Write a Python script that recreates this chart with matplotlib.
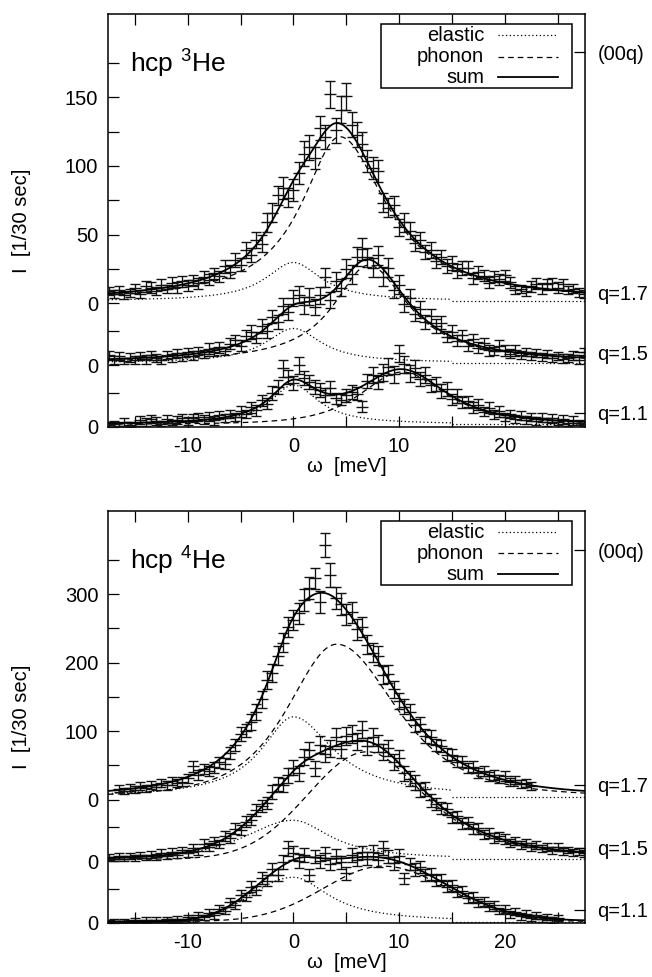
import numpy as np
import matplotlib
matplotlib.use("Agg")
import matplotlib.pyplot as plt
from matplotlib.patches import Rectangle
from matplotlib.lines import Line2D

plt.rcParams['font.family'] = ['Liberation Sans', 'DejaVu Sans']
plt.rcParams['mathtext.fontset'] = 'custom'
plt.rcParams['mathtext.rm'] = 'Liberation Sans'
plt.rcParams['mathtext.default'] = 'regular'

# ---------------- data ----------------
STEP = 0.5
q_labels = ["q=1.1", "q=1.5", "q=1.7"]

# top panel: hcp 3He, counts above each curve's own zero
he3_start = [-17.5, -17.5, -17.5]
he3_q11 = [1.5, 2.2, 1.0, 3.5, 1.8, 0.6, 4.9, 3.8, 5.6, 4.4,
           2.4, 5.9, 3.1, 5.0, 6.8, 4.1, 6.3, 7.2, 5.5, 7.6,
           4.8, 8.9, 6.3, 9.2, 7.5, 11.6, 9.4, 14.5, 12.1, 19.3,
           16.8, 24.6, 28.9, 42.7, 36.5, 31.8, 44.8, 35.7, 33.0, 29.1,
           26.9, 23.4, 28.2, 21.0, 19.8, 23.0, 25.5, 24.3, 14.8, 33.5,
           37.9, 32.4, 39.6, 43.9, 38.2, 53.6, 45.6, 39.0, 42.7, 34.9,
           38.0, 30.2, 31.5, 26.0, 27.8, 20.1, 22.8, 17.5, 18.9, 14.0,
           16.2, 11.2, 13.9, 9.1, 11.4, 7.3, 9.6, 6.0, 8.3, 5.2,
           7.4, 4.6, 6.9, 3.9, 6.2, 3.4, 5.5, 2.9, 4.7, 3.2,
           2.5]
he3_q11_err = [2, 2, 2, 3, 2, 2, 3, 3, 3, 3,
               2, 3, 2, 3, 3, 3, 3, 3, 3, 3,
               3, 3, 3, 3, 3, 4, 3, 4, 4, 4,
               4, 5, 5, 6, 5, 5, 6, 5, 5, 5,
               5, 5, 5, 4, 4, 5, 5, 5, 4, 5,
               6, 5, 6, 6, 6, 6, 6, 6, 6, 5,
               6, 5, 5, 5, 5, 4, 5, 4, 4, 4,
               4, 3, 4, 3, 4, 3, 3, 3, 3, 3,
               3, 3, 3, 3, 3, 2, 3, 2, 3, 2,
               2]
he3_q15 = [7.5, 4.0, 6.8, 3.1, 5.5, 3.6, 6.9, 4.2, 7.1, 5.0,
           3.9, 7.4, 5.1, 8.6, 6.0, 9.4, 7.0, 10.5, 8.1, 12.0,
           9.3, 13.2, 10.4, 15.6, 18.3, 14.1, 21.5, 24.0, 19.8, 28.3,
           25.0, 35.4, 31.6, 43.0, 38.5, 48.7, 51.3, 43.5, 49.9, 42.4,
           50.8, 64.0, 47.5, 61.0, 56.5, 70.2, 66.0, 79.0, 84.5, 78.5,
           71.0, 80.0, 64.5, 70.8, 55.0, 58.6, 44.5, 49.2, 37.0, 40.5,
           31.5, 35.8, 28.7, 31.0, 20.5, 24.4, 17.8, 21.6, 14.2, 19.0,
           12.5, 16.0, 11.0, 10.2, 14.1, 11.0, 8.4, 10.9, 7.2, 9.5,
           6.4, 8.8, 5.8, 7.9, 5.2, 6.9, 4.8, 5.3, 7.1, 4.1,
           9.5]
he3_q15_err = [3, 3, 3, 2, 3, 3, 3, 3, 3, 3,
               3, 3, 3, 3, 3, 3, 3, 3, 3, 4,
               3, 4, 3, 4, 4, 4, 4, 5, 4, 5,
               5, 5, 5, 6, 6, 6, 6, 6, 6, 6,
               6, 7, 6, 7, 6, 7, 7, 7, 8, 7,
               7, 7, 7, 7, 6, 7, 6, 6, 5, 6,
               5, 5, 5, 5, 4, 5, 4, 4, 4, 4,
               4, 4, 4, 3, 4, 4, 3, 4, 3, 3,
               3, 3, 3, 3, 3, 3, 3, 3, 3, 3,
               3]
he3_q17 = [8.9, 6.8, 9.6, 6.2, 7.6, 10.8, 7.0, 12.4, 11.3, 9.1,
           13.6, 10.2, 14.8, 11.6, 15.9, 13.2, 16.8, 14.6, 19.5, 17.0,
           21.9, 19.6, 26.8, 23.1, 31.4, 28.2, 38.9, 35.0, 46.1, 43.5,
           58.9, 66.0, 78.5, 84.0, 76.8, 82.3, 94.5, 108.8, 113.5, 106.0,
           127.5, 121.0, 152.0, 126.0, 141.0, 150.5, 130.0, 122.6, 116.0, 103.5,
           98.6, 96.0, 73.2, 69.5, 71.4, 55.2, 58.9, 52.9, 44.0, 46.2,
           37.1, 38.8, 31.0, 33.7, 27.1, 29.5, 23.3, 25.6, 26.0, 18.2,
           22.5, 20.1, 15.0, 19.8, 17.4, 20.5, 15.2, 9.8, 10.4, 8.6,
           12.5, 14.1, 11.0, 13.8, 14.5, 11.2, 13.9, 9.5, 10.7, 7.9,
           6.8]
he3_q17_err = [3, 3, 3, 3, 3, 3, 3, 4, 4, 3,
               4, 3, 4, 4, 4, 4, 4, 4, 4, 4,
               4, 4, 5, 5, 5, 5, 6, 5, 6, 6,
               7, 7, 7, 8, 7, 8, 8, 9, 9, 8,
               9, 9, 10, 9, 10, 10, 9, 9, 9, 8,
               8, 8, 7, 7, 7, 6, 7, 6, 6, 6,
               5, 6, 5, 5, 5, 5, 5, 5, 5, 4,
               5, 4, 4, 4, 4, 4, 4, 3, 3, 3,
               4, 4, 4, 4, 4, 4, 4, 3, 3, 3,
               3]

# bottom panel: hcp 4He
he4_start = [-17.5, -17.5, -16.5]
he4_q11 = [0.8, 2.4, 0.5, 3.0, 1.2, 3.6, 0.9, 4.1, 2.0, 4.8,
           1.6, 5.2, 2.5, 6.0, 3.4, 8.3, 4.8, 11.0, 8.2, 15.0,
           11.0, 21.0, 18.0, 30.0, 26.5, 40.5, 38.0, 53.0, 47.5, 66.0,
           61.5, 78.5, 70.0, 89.5, 109.0, 102.5, 91.0, 99.5, 70.5, 97.0,
           90.0, 101.5, 86.5, 98.0, 88.5, 72.5, 99.0, 92.5, 103.0, 94.0,
           104.0, 91.5, 110.0, 97.0, 87.0, 98.5, 65.0, 86.0, 78.0, 81.5,
           70.0, 72.0, 61.5, 63.5, 53.0, 55.0, 45.0, 47.0, 36.5, 38.0,
           29.5, 31.5, 23.0, 26.0, 17.5, 21.0, 13.0, 16.5, 10.0, 13.5,
           7.5, 11.0, 5.5, 8.5, 4.5, 7.0]
he4_q11_err = [3, 4, 3, 3, 3, 4, 3, 4, 3, 4,
               3, 4, 3, 4, 3, 4, 4, 5, 4, 5,
               5, 6, 5, 6, 6, 7, 6, 8, 7, 9,
               8, 9, 9, 10, 11, 10, 10, 10, 9, 10,
               10, 10, 9, 10, 10, 9, 10, 10, 10, 10,
               10, 10, 10, 10, 9, 10, 8, 9, 9, 9,
               9, 9, 8, 8, 8, 8, 7, 7, 7, 7,
               6, 6, 6, 6, 5, 6, 5, 5, 5, 5,
               4, 5, 4, 4, 4, 4]
he4_q15 = [6.5, 3.2, 7.6, 4.0, 8.1, 5.0, 9.2, 5.5, 10.0, 6.4,
           12.5, 8.0, 14.0, 9.5, 16.5, 12.0, 19.5, 14.8, 26.0, 21.0,
           29.5, 25.0, 37.0, 34.0, 47.5, 46.0, 58.0, 60.5, 75.0, 80.5,
           85.0, 101.0, 112.5, 111.0, 126.0, 136.5, 128.5, 152.0, 162.0, 136.0,
           170.5, 156.5, 164.5, 181.0, 163.5, 183.5, 186.5, 175.0, 192.5, 168.0,
           182.0, 172.0, 159.5, 165.5, 145.0, 151.0, 128.5, 120.5, 114.5, 104.0,
           105.5, 89.0, 84.0, 77.5, 76.5, 64.5, 66.0, 55.5, 57.0, 47.0,
           48.5, 39.5, 41.5, 34.0, 36.5, 32.5, 27.0, 30.0, 23.5, 26.5,
           21.0, 24.0, 18.5, 21.0, 16.0, 20.5, 14.5, 16.5, 13.0, 15.0,
           12.0]
he4_q15_err = [4, 3, 4, 4, 4, 4, 4, 4, 5, 4,
               5, 4, 5, 4, 5, 5, 6, 5, 6, 6,
               6, 6, 7, 7, 8, 7, 8, 8, 9, 9,
               9, 10, 10, 10, 11, 11, 11, 12, 12, 11,
               12, 12, 12, 13, 12, 13, 13, 13, 13, 12,
               13, 13, 12, 12, 12, 12, 11, 11, 11, 10,
               10, 10, 9, 9, 9, 8, 8, 8, 8, 7,
               8, 7, 7, 7, 7, 7, 6, 6, 6, 6,
               6, 6, 5, 6, 5, 6, 5, 5, 5, 5,
               5]
he4_q17 = [16.0, 12.8, 17.5, 14.6, 19.8, 16.4, 21.5, 18.6, 24.3, 20.9,
           27.0, 24.8, 26.5, 31.0, 48.5, 36.0, 44.5, 42.0, 47.5, 55.0,
           52.5, 68.0, 80.0, 95.5, 101.0, 113.5, 128.0, 146.5, 175.0, 185.5,
           210.0, 229.5, 252.0, 262.5, 272.0, 291.0, 308.5, 323.0, 289.0, 372.0,
           328.0, 295.0, 286.0, 270.5, 273.5, 248.5, 252.0, 226.0, 214.5, 210.0,
           182.5, 184.0, 161.0, 144.0, 135.5, 128.0, 108.5, 110.5, 93.0, 92.0,
           79.5, 78.0, 66.0, 65.5, 55.5, 56.0, 46.5, 48.0, 39.0, 42.0,
           34.0, 36.5, 30.5, 34.5, 26.0, 29.0, 22.5, 24.5, 20.0]
he4_q17_err = [5, 5, 5, 5, 6, 5, 6, 5, 6, 6,
               6, 6, 6, 6, 8, 7, 7, 7, 8, 8,
               8, 9, 9, 10, 10, 11, 11, 12, 13, 13,
               14, 14, 15, 15, 15, 16, 16, 16, 16, 17,
               17, 16, 16, 15, 15, 15, 15, 14, 14, 14,
               13, 13, 12, 12, 11, 11, 10, 10, 10, 10,
               9, 9, 9, 8, 8, 8, 7, 8, 7, 7,
               7, 7, 6, 7, 6, 6, 6, 6, 6]

# fitted model curves, parameters:
# (amplitude, centre, left width, left exponent, right width, right exponent)
# exponent 0 = gaussian side
he3_offsets = [0, 45, 90]
he3_bg = [2.0, 1.7, 1.7]
he3_elastic = [(28.5, 0, 2.7, 1, 2.9, 1), (25, 0, 3.2, 1, 3.2, 1), (28, 0, 3.2, 1, 3.2, 1)]
he3_phonon = [(38, 10.3, 7.1, 2, 6.3, 1.5), (71, 7.1, 4.0, 1, 4.6, 1), (119.5, 4.4, 4.4, 1, 5.3, 1)]
he4_offsets = [0, 90, 180]
he4_bg = [2.0, 3.0, 4.0]
he4_elastic = [(64.7, 0, 4.0, 0, 4.1, 1), (57, 0, 8.3, 2, 4.2, 1), (117, 0, 3.7, 1, 4.6, 1)]
he4_phonon = [(81, 8.5, 5.6, 0, 6.0, 0), (157, 7.0, 5.6, 0, 8.5, 1.5), (223, 4.1, 8.4, 2, 10.2, 2)]

# axis text
xticks = [-15, -10, -5, 0, 5, 10, 15, 20, 25]
xticklabels = ["", "-10", "", "0", "", "10", "", "20", ""]
he3_yticks = [0, 25, 45, 70, 90, 115, 140, 165, 190, 215, 240, 265]
he3_yticklabels = ["0", "", "0", "", "0", "", "50", "", "100", "", "150", ""]
he4_yticks = [0, 50, 90, 140, 180, 230, 280, 330, 380, 430, 480, 530]
he4_yticklabels = ["0", "", "0", "", "0", "", "100", "", "200", "", "300", ""]
he3_rlabel_pos = [272.7, 98.2, 54.5, 10.2]
he4_rlabel_pos = [544.5, 201.5, 109.5, 19.0]
rlabels = ["(00q)", "q=1.7", "q=1.5", "q=1.1"]

XMIN, XMAX = -17.55, 27.6
FS = 14.5


def side(d, h, p):
    x = d / h
    if p == 0:
        return np.exp(-0.5 * x * x)
    return (1.0 + x * x) ** (-p)


def peak(w, A, c, hl, pl, hr, pr):
    return A * np.where(w < c, side(c - w, hl, pl), side(w - c, hr, pr))


fig = plt.figure(figsize=(6.52, 9.77), dpi=100)
W, H = 652.0, 977.0


def make_axes(top_px, bot_px):
    return fig.add_axes([108 / W, 1 - bot_px / H, (585 - 108) / W, (bot_px - top_px) / H])


panels = [
    dict(ax=make_axes(14, 427), ylim=300.5, title="hcp $^{3}$He",
         data=[he3_q11, he3_q15, he3_q17], err=[he3_q11_err, he3_q15_err, he3_q17_err],
         start=he3_start, off=he3_offsets, bg=he3_bg, el=he3_elastic, ph=he3_phonon,
         yt=he3_yticks, ytl=he3_yticklabels, rpos=he3_rlabel_pos),
    dict(ax=make_axes(511, 923), ylim=601.5, title="hcp $^{4}$He",
         data=[he4_q11, he4_q15, he4_q17], err=[he4_q11_err, he4_q15_err, he4_q17_err],
         start=he4_start, off=he4_offsets, bg=he4_bg, el=he4_elastic, ph=he4_phonon,
         yt=he4_yticks, ytl=he4_yticklabels, rpos=he4_rlabel_pos),
]

wg = np.linspace(XMIN, XMAX, 900)
dot_style = (0, (1.0, 2.0))
dash_style = (0, (4.5, 3.2))
INK = "#111111"

for P in panels:
    ax = P["ax"]
    for k in range(3):
        vals = np.asarray(P["data"][k], float)
        errs = np.asarray(P["err"][k], float)
        xs = P["start"][k] + STEP * np.arange(len(vals))
        off = P["off"][k]
        ax.errorbar(xs, vals + off, yerr=errs, fmt="_", ms=8.5, mew=1.0, color=INK,
                    ecolor=INK, elinewidth=0.95, capsize=3.3, capthick=0.95, zorder=3)
        bg = P["bg"][k]
        el = peak(wg, *P["el"][k])
        ph = peak(wg, *P["ph"][k])
        m = wg <= 15
        ax.plot(wg[m], off + bg + el[m], color="black", lw=0.9, linestyle=dot_style, zorder=2)
        ax.plot([15, XMAX], [off + bg, off + bg], color="black", lw=0.9, linestyle=dot_style, zorder=2)
        ax.plot(wg, off + bg + ph, color="black", lw=0.9, linestyle=dash_style, zorder=2)
        ax.plot(wg, off + bg + el + ph, color="black", lw=1.3, zorder=4)

    ax.set_xlim(XMIN, XMAX)
    ax.set_ylim(0, P["ylim"])
    ax.set_xticks(xticks)
    ax.set_xticklabels(xticklabels)
    ax.set_yticks(P["yt"])
    ax.set_yticklabels(P["ytl"])
    ax.tick_params(axis="x", direction="in", top=True, length=8, width=0.9, labelsize=FS, pad=7)
    ax.tick_params(axis="y", direction="in", right=False, length=8, width=0.9, labelsize=FS, pad=7)
    for s in ax.spines.values():
        s.set_linewidth(1.1)
    ax.set_xlabel("\u03c9  [meV]", fontsize=FS, labelpad=1)

    ax2 = ax.twinx()
    ax2.set_ylim(0, P["ylim"])
    ax2.set_yticks(P["rpos"])
    ax2.set_yticklabels(rlabels)
    ax2.tick_params(axis="y", direction="in", length=8, width=0.9, labelsize=FS, pad=9)
    for s in ax2.spines.values():
        s.set_visible(False)

    ax.text(0.046, 0.878, P["title"], transform=ax.transAxes, fontsize=19,
            ha="left", va="center")

    # legend box (gnuplot style: text right-aligned, sample to the right)
    lx0, lx1 = (381 - 108) / 477.0, (572 - 108) / 477.0
    ly0, ly1 = 0.821, 0.976
    ax.add_patch(Rectangle((lx0, ly0), lx1 - lx0, ly1 - ly0, transform=ax.transAxes,
                           facecolor="white", edgecolor="black", lw=1.1, zorder=6))
    rows = [0.949, 0.897, 0.847]
    names = ["elastic", "phonon", "sum"]
    styles = [dot_style, dash_style, "-"]
    for yy, nm, st in zip(rows, names, styles):
        ax.text((484 - 108) / 477.0, yy, nm, transform=ax.transAxes, fontsize=FS,
                ha="right", va="center", zorder=7)
        ax.add_line(Line2D([(498 - 108) / 477.0, (558 - 108) / 477.0], [yy, yy],
                           transform=ax.transAxes, color="black", lw=0.9 if st != "-" else 1.3,
                           linestyle=st, zorder=7))

    # y label
    pos = ax.get_position()
    fig.text(22 / W, pos.y0 + pos.height / 2, "I  [1/30 sec]", rotation=90,
             fontsize=FS, ha="center", va="center")

fig.savefig("out.png", dpi=100)
